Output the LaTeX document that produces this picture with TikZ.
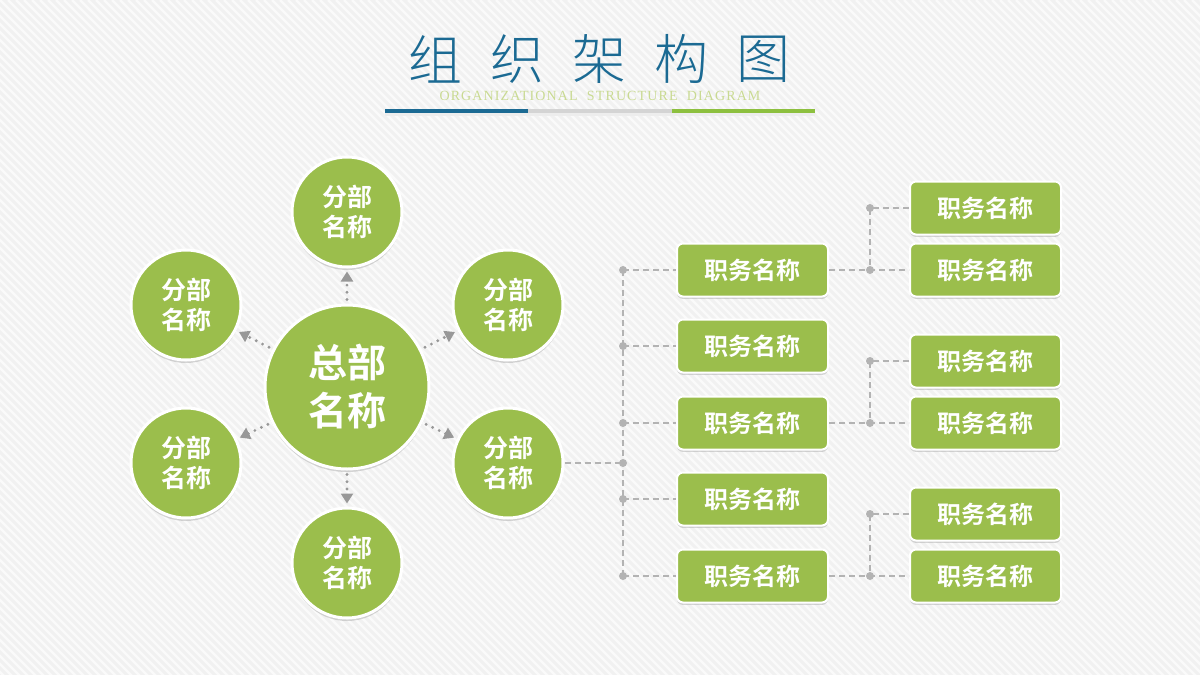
\documentclass[tikz,border=0pt]{standalone}
\usepackage{fontspec}
\setmainfont{Liberation Serif}
\newfontfamily\cjk{Noto Sans CJK SC}[BoldFont={Noto Sans CJK SC Bold}]
\newfontfamily\cjklight{Noto Sans CJK SC Light}
\newfontfamily\subfont{Liberation Serif}[LetterSpace=8]
\usetikzlibrary{arrows.meta,shadows}
\definecolor{leaf}{HTML}{9BBE4C}
\definecolor{ink}{HTML}{1B6A93}
\definecolor{sprout}{HTML}{8DC03F}
\definecolor{pale}{HTML}{C9DA92}
\definecolor{rule}{HTML}{B3B3B3}
\definecolor{paper}{HTML}{F1F1F1}

\begin{document}
\begin{tikzpicture}[x=0.5pt,y=-0.5pt,
  hub/.style={circle,fill=leaf,draw=white,line width=1.5pt,minimum size=82pt,inner sep=0pt,
    align=center,text=white,font=\cjk\bfseries\fontsize{19.5}{24}\selectfont,
    drop shadow={shadow xshift=0pt,shadow yshift=-1.5pt,opacity=.25,fill=black!60}},
  branch/.style={hub,minimum size=55pt,font=\cjk\bfseries\fontsize{12.5}{15}\selectfont},
  post/.style={rectangle,rounded corners=3pt,fill=leaf,draw=white,line width=1pt,
    minimum width=75.5pt,minimum height=26.5pt,inner sep=0pt,text=white,
    font=\cjk\bfseries\fontsize{12}{14}\selectfont,
    drop shadow={shadow xshift=0pt,shadow yshift=-1.2pt,opacity=.25,fill=black!60}},
  ray/.style={draw=rule!85!black,line width=1.6pt,dash pattern=on 0pt off 3.6pt,line cap=round,
    -{Triangle[length=5pt,width=6pt]},shorten <=2pt,shorten >=1.5pt},
  wire/.style={draw=rule,line width=1pt,dash pattern=on 3pt off 2pt},
  knot/.style={circle,fill=rule,inner sep=0pt,minimum size=4pt}
]
\useasboundingbox (0,0) rectangle (1200,675);
% striped paper
\fill[paper] (0,0) rectangle (1200,675);
\begin{scope}
\clip (0,0) rectangle (1200,675);
\foreach \s in {-680,-672,...,1200}
  \draw[white,opacity=.7,line width=1.2pt] (\s,0) -- ++(680,680);
\end{scope}

% title
\foreach \c [count=\i from 0] in {组,织,架,构,图}
  \node[text=ink,font=\cjklight\fontsize{27}{27}\selectfont] (t\i) at (435+82*\i,59) {\c};
\node[text=pale,font=\subfont\fontsize{7}{7}\selectfont] (sub) at (600,96) {ORGANIZATIONAL~~STRUCTURE~~DIAGRAM};
\fill[black!7] (385,113) rectangle (815,116);
\fill[ink] (385,109) rectangle (528,113);
\fill[black!17] (528,109) rectangle (672,113);
\fill[sprout] (672,109) rectangle (815,113);

% head office and branches
\node[hub] (hq) at (347,387) {总部\\名称};
\node[branch] (b1) at (347,212) {分部\\名称};
\node[branch] (b2) at (186,305) {分部\\名称};
\node[branch] (b3) at (508,305) {分部\\名称};
\node[branch] (b4) at (186,463) {分部\\名称};
\node[branch] (b5) at (508,463) {分部\\名称};
\node[branch] (b6) at (347,563) {分部\\名称};
\foreach \b in {1,...,6}
  \draw[ray] (hq) -- (b\b);

% posts
\foreach \y [count=\i] in {270,346,423,499,576}
  \node[post] (p\i) at (752.5,\y) {职务名称};
\foreach \y [count=\i] in {208,270,361,423,514,576}
  \node[post] (s\i) at (985.5,\y) {职务名称};

\coordinate (j0) at (623,463);
\coordinate (kx) at (870,0);
\draw[wire] (b5) -- (j0);
\draw[wire] (p1.west -| j0) -- (p5.west -| j0);
\node[knot] at (j0) {};
\foreach \i in {1,...,5} {
  \draw[wire] (p\i.west -| j0) -- (p\i.west);
  \node[knot] at (p\i.west -| j0) {};
}
\foreach \p/\a/\b in {1/1/2,3/3/4,5/5/6} {
  \draw[wire] (p\p.east) -- (s\b.west);
  \draw[wire] (s\a.west) -| (p\p.east -| kx);
  \node[knot] at (s\a.west -| kx) {};
  \node[knot] at (p\p.east -| kx) {};
}

\end{tikzpicture}
\end{document}
